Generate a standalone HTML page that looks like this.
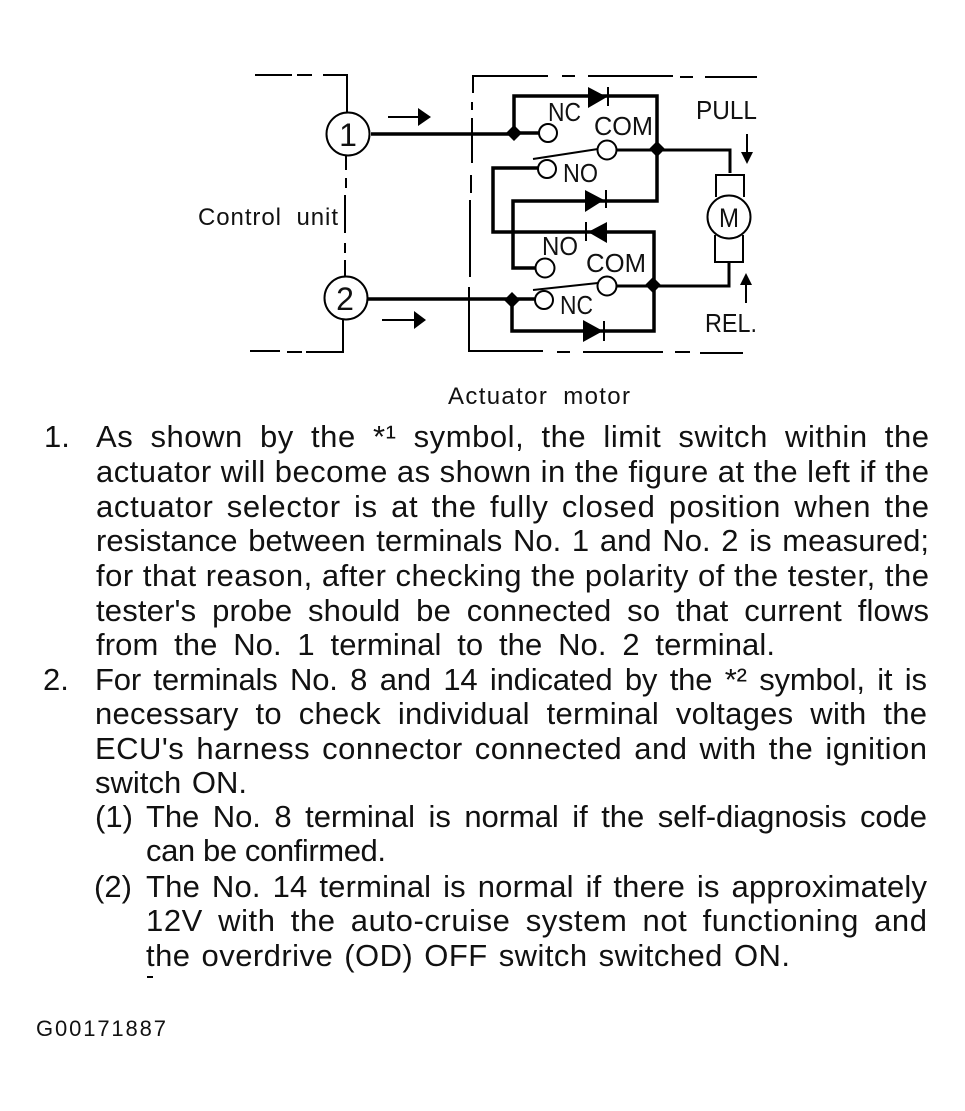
<!DOCTYPE html>
<html><head><meta charset="utf-8"><style>
html,body{margin:0;padding:0;background:#fff}
svg{display:block}
text{font-family:"Liberation Sans",sans-serif;fill:#111}
.b{font-size:31px}
.l{font-size:26px}
.w{fill:none;stroke:#000;stroke-width:3.5;stroke-linejoin:miter}
.m{fill:none;stroke:#000;stroke-width:3}
.t{fill:none;stroke:#000;stroke-width:2}
.c{fill:#fff;stroke:#000;stroke-width:2}
</style></head><body>
<svg width="965" height="1111" viewBox="0 0 965 1111" xmlns="http://www.w3.org/2000/svg">
<!-- control unit dashed box -->
<path class="t" d="M255 75H292M297 75H312M323 75H347V112M346 156V170M346 178V188M345 195V233M345 243V253M345 260V277M343 320V352H306M302 352H287M280 351H250"/>
<!-- actuator dashed box -->
<path class="t" d="M548 76H473V93M472 102V110M472 118V163M471 175V193M470 200V277M469 287V351H543M557 352H570M583 352H663M675 352H690M700 353H743M562 76H575M588 76H673M680 77H693M705 77H757"/>
<!-- arrows -->
<path class="t" d="M388 117H420M382 320H416M747 134V152M746 285V303"/>
<path d="M418 108L431 117L418 126ZM414 311L426 320L414 329ZM741 152H753L747 164ZM740 285H752L746 273Z" fill="#000"/>
<!-- wires -->
<path class="w" d="M371 134H514M548 133H514V96H657V149V201H513V268H545"/>
<path class="w" d="M368 299H544M512 300V331H654V285V232H493V168H547"/>
<path class="m" d="M607 150H730V173M607 286H729V262"/>
<path class="t" d="M533 159L598 149M533 290L598 283"/>
<!-- junctions -->
<path d="M514 125L522 133L514 141L506 133ZM657 141L665 149L657 157L649 149ZM512 292L520 300L512 308L504 300ZM653 277L661 285L653 293L645 285Z" fill="#000"/>
<!-- diodes -->
<path d="M588 87L607 97L588 108ZM585 190L604 200L585 212ZM607 222L588 232L607 243ZM583 320L603 331L583 342Z" fill="#000"/>
<path class="t" d="M608 87V106M606 190V208M586 222V241M604 321V341"/>
<!-- terminals -->
<circle class="c" cx="548" cy="133" r="9"/>
<circle class="c" cx="607" cy="150" r="9.5"/>
<circle class="c" cx="547" cy="169" r="9"/>
<circle class="c" cx="545" cy="268" r="9.5"/>
<circle class="c" cx="607" cy="286" r="9.5"/>
<circle class="c" cx="544" cy="300" r="9"/>
<circle class="c" cx="348" cy="134" r="21.5"/>
<circle class="c" cx="346" cy="298" r="21.5"/>
<!-- motor -->
<path class="t" d="M716 197V175H744V197M715 235V262H743V235" stroke-width="2.5"/>
<circle class="c" cx="729" cy="217" r="21.5"/>
<!-- labels -->
<text x="348" y="146" text-anchor="middle" style="font-size:32px">1</text>
<text x="345" y="310" text-anchor="middle" style="font-size:32px">2</text>
<text x="719" y="227" textLength="20" lengthAdjust="spacingAndGlyphs" style="font-size:27px">M</text>
<text class="l" x="548" y="121" textLength="33" lengthAdjust="spacingAndGlyphs">NC</text>
<text class="l" x="594" y="135" textLength="59" lengthAdjust="spacingAndGlyphs">COM</text>
<text class="l" x="563" y="182" textLength="35" lengthAdjust="spacingAndGlyphs">NO</text>
<text class="l" x="696" y="119" textLength="61" lengthAdjust="spacingAndGlyphs">PULL</text>
<text class="l" x="542" y="255" textLength="36" lengthAdjust="spacingAndGlyphs">NO</text>
<text class="l" x="586" y="272" textLength="60" lengthAdjust="spacingAndGlyphs">COM</text>
<text class="l" x="560" y="314" textLength="33" lengthAdjust="spacingAndGlyphs">NC</text>
<text class="l" x="705" y="332" textLength="52" lengthAdjust="spacingAndGlyphs">REL.</text>
<text x="198" y="225" textLength="140" style="font-size:24px;word-spacing:7px">Control unit</text>
<text x="448" y="404" textLength="182" style="font-size:24px;word-spacing:7px">Actuator motor</text>
<!-- body -->
<text class="b" x="44" y="447">1.</text>
<text class="b" x="96" y="447" textLength="833" style="word-spacing:8px">As shown by the *¹ symbol, the limit switch within the</text>
<text class="b" x="96" y="482" textLength="833" style="word-spacing:0">actuator will become as shown in the figure at the left if the</text>
<text class="b" x="96" y="517" textLength="833" style="word-spacing:4px">actuator selector is at the fully closed position when the</text>
<text class="b" x="96" y="551" textLength="833" style="word-spacing:2px">resistance between terminals No. 1 and No. 2 is measured;</text>
<text class="b" x="96" y="586" textLength="833" style="word-spacing:0">for that reason, after checking the polarity of the tester, the</text>
<text class="b" x="96" y="621" textLength="833" style="word-spacing:7px">tester's probe should be connected so that current flows</text>
<text class="b" x="96" y="655" textLength="679" style="word-spacing:7px">from the No. 1 terminal to the No. 2 terminal.</text>
<text class="b" x="43" y="690">2.</text>
<text class="b" x="95" y="690" textLength="832" style="word-spacing:4px">For terminals No. 8 and 14 indicated by the *² symbol, it is</text>
<text class="b" x="95" y="724" textLength="832" style="word-spacing:8px">necessary to check individual terminal voltages with the</text>
<text class="b" x="95" y="759" textLength="832" style="word-spacing:3px">ECU's harness connector connected and with the ignition</text>
<text class="b" x="95" y="793" textLength="152" style="word-spacing:2px">switch ON.</text>
<text class="b" x="95" y="827">(1)</text>
<text class="b" x="146" y="827" textLength="781" style="word-spacing:5px">The No. 8 terminal is normal if the self-diagnosis code</text>
<text class="b" x="146" y="861" textLength="240" style="word-spacing:0">can be confirmed.</text>
<text class="b" x="94" y="897">(2)</text>
<text class="b" x="146" y="897" textLength="781" style="word-spacing:3px">The No. 14 terminal is normal if there is approximately</text>
<text class="b" x="146" y="931" textLength="781" style="word-spacing:6px">12V with the auto-cruise system not functioning and</text>
<text class="b" x="146" y="966" textLength="644" style="word-spacing:2px">the overdrive (OD) OFF switch switched ON.</text>
<rect x="147" y="976" width="6" height="2" fill="#000"/>
<text x="36" y="1036" textLength="130" style="font-size:22px">G00171887</text>
</svg>
</body></html>
